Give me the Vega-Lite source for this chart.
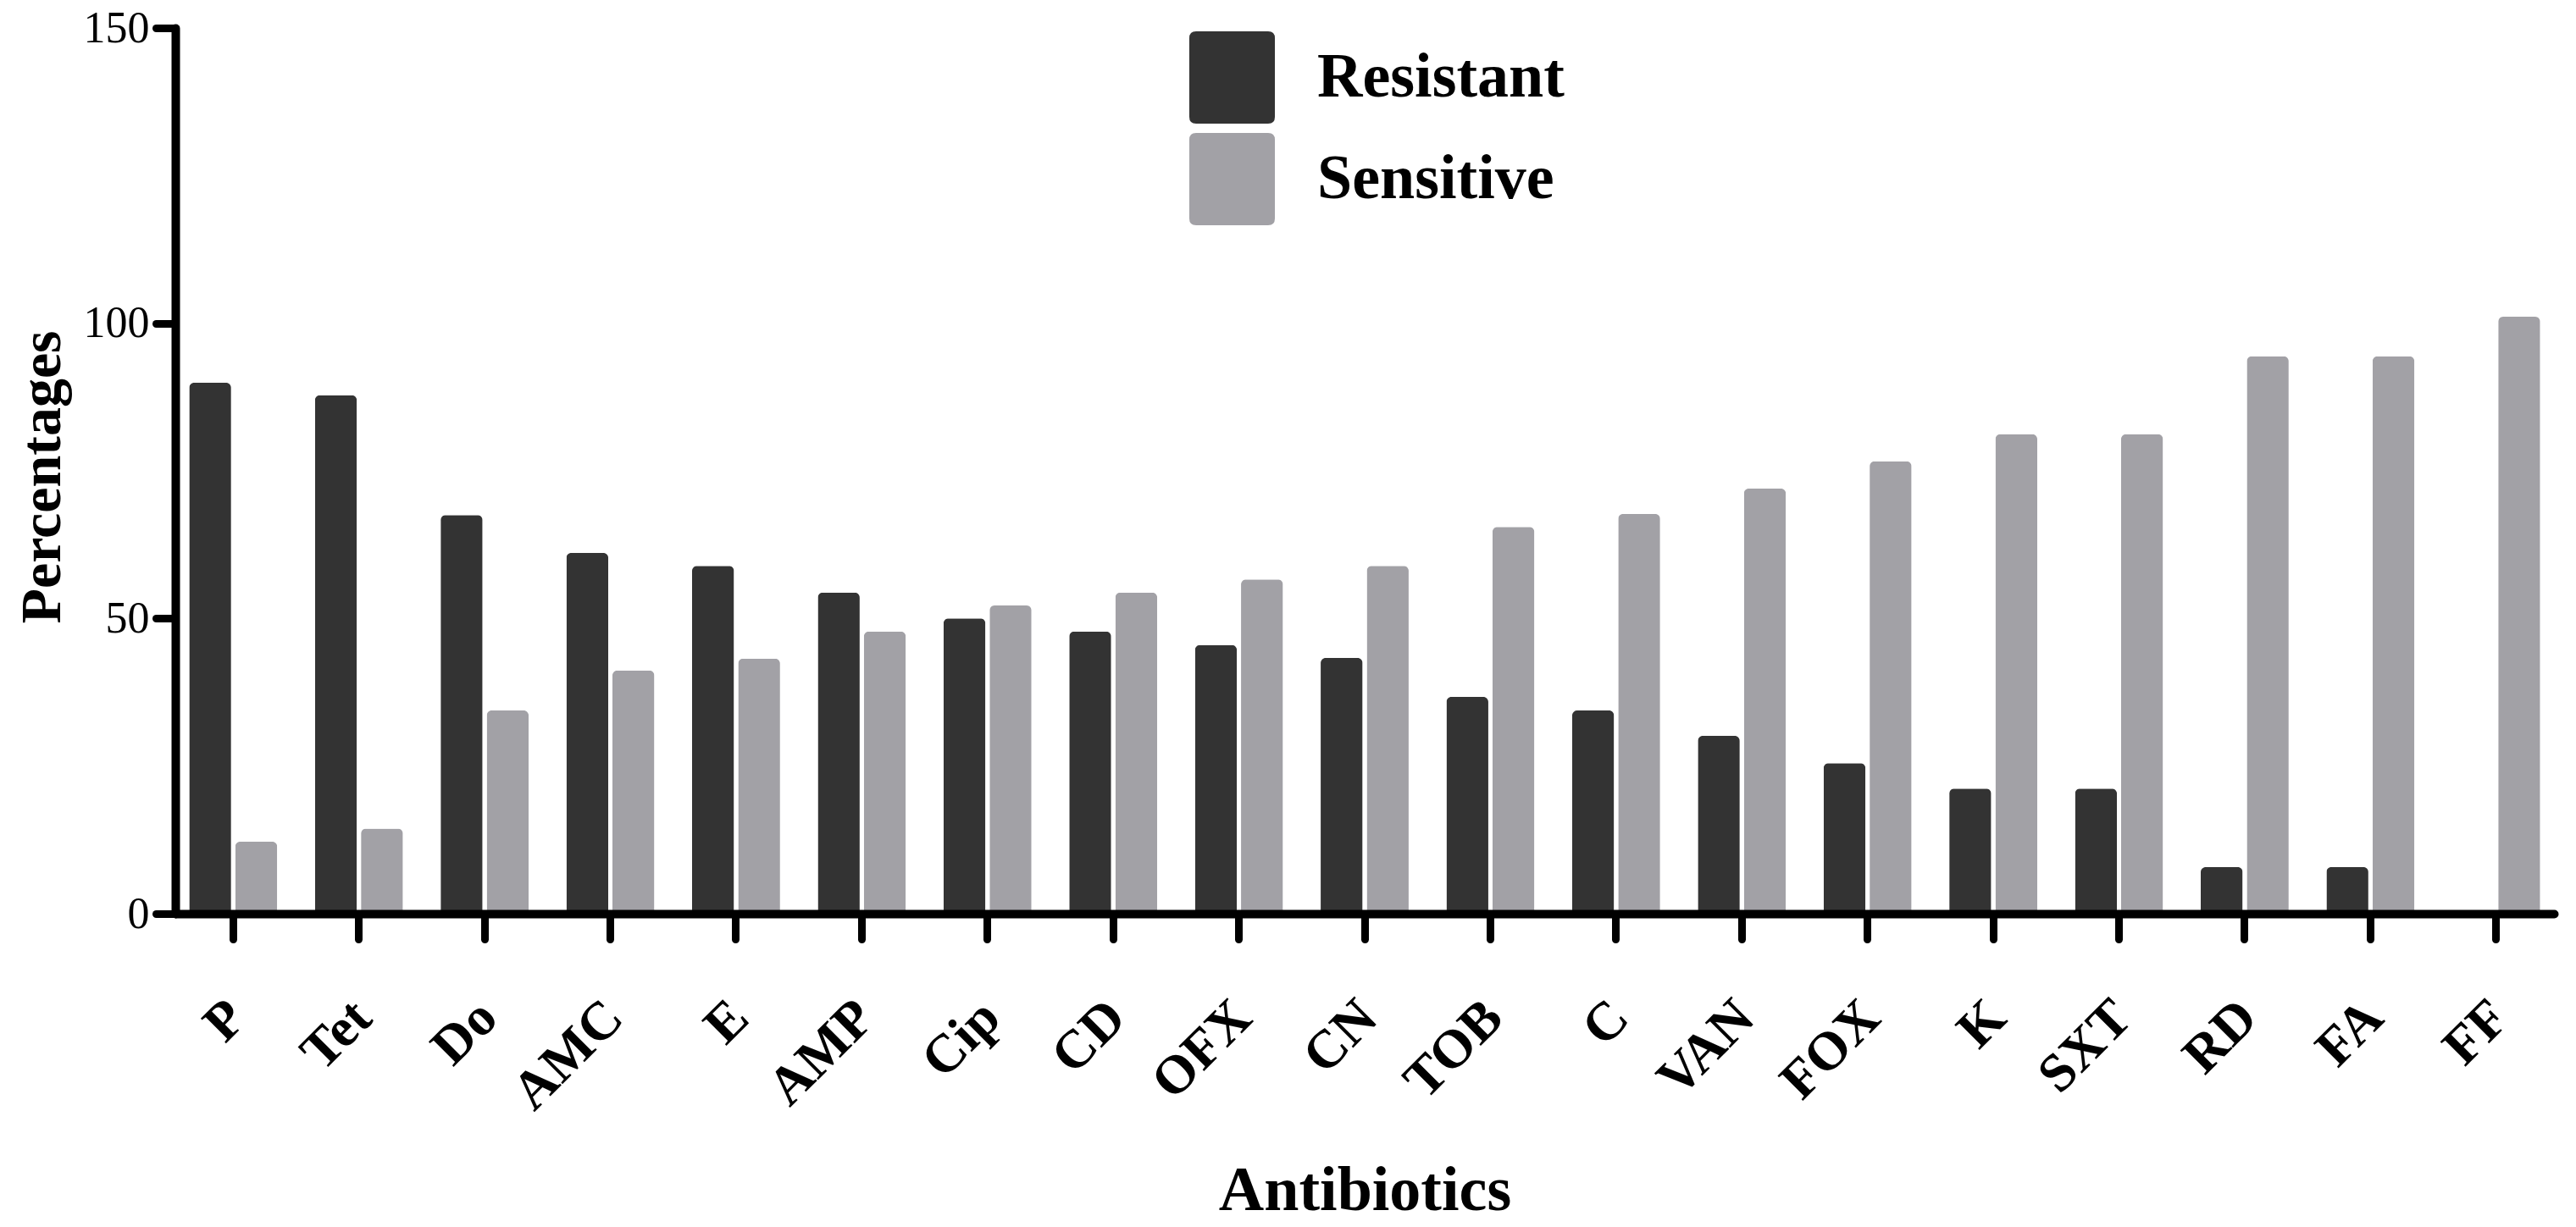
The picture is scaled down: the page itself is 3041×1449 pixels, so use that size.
{
  "$schema": "https://vega.github.io/schema/vega-lite/v6.json",
  "width": 2808,
  "height": 1046,
  "autosize": {"type": "none"},
  "padding": {"left": 207, "top": 33, "right": 26, "bottom": 370},
  "background": "white",
  "data": {
    "values": [
      {"antibiotic": "P", "status": "Resistant", "percentage": 89.9},
      {"antibiotic": "P", "status": "Sensitive", "percentage": 12.2},
      {"antibiotic": "Tet", "status": "Resistant", "percentage": 87.8},
      {"antibiotic": "Tet", "status": "Sensitive", "percentage": 14.4},
      {"antibiotic": "Do", "status": "Resistant", "percentage": 67.5},
      {"antibiotic": "Do", "status": "Sensitive", "percentage": 34.4},
      {"antibiotic": "AMC", "status": "Resistant", "percentage": 61.1},
      {"antibiotic": "AMC", "status": "Sensitive", "percentage": 41.2},
      {"antibiotic": "E", "status": "Resistant", "percentage": 58.9},
      {"antibiotic": "E", "status": "Sensitive", "percentage": 43.2},
      {"antibiotic": "AMP", "status": "Resistant", "percentage": 54.4},
      {"antibiotic": "AMP", "status": "Sensitive", "percentage": 47.8},
      {"antibiotic": "Cip", "status": "Resistant", "percentage": 50.0},
      {"antibiotic": "Cip", "status": "Sensitive", "percentage": 52.2},
      {"antibiotic": "CD", "status": "Resistant", "percentage": 47.8},
      {"antibiotic": "CD", "status": "Sensitive", "percentage": 54.4},
      {"antibiotic": "OFX", "status": "Resistant", "percentage": 45.5},
      {"antibiotic": "OFX", "status": "Sensitive", "percentage": 56.6},
      {"antibiotic": "CN", "status": "Resistant", "percentage": 43.3},
      {"antibiotic": "CN", "status": "Sensitive", "percentage": 58.9},
      {"antibiotic": "TOB", "status": "Resistant", "percentage": 36.7},
      {"antibiotic": "TOB", "status": "Sensitive", "percentage": 65.5},
      {"antibiotic": "C", "status": "Resistant", "percentage": 34.4},
      {"antibiotic": "C", "status": "Sensitive", "percentage": 67.7},
      {"antibiotic": "VAN", "status": "Resistant", "percentage": 30.1},
      {"antibiotic": "VAN", "status": "Sensitive", "percentage": 72.0},
      {"antibiotic": "FOX", "status": "Resistant", "percentage": 25.5},
      {"antibiotic": "FOX", "status": "Sensitive", "percentage": 76.6},
      {"antibiotic": "K", "status": "Resistant", "percentage": 21.2},
      {"antibiotic": "K", "status": "Sensitive", "percentage": 81.2},
      {"antibiotic": "SXT", "status": "Resistant", "percentage": 21.2},
      {"antibiotic": "SXT", "status": "Sensitive", "percentage": 81.2},
      {"antibiotic": "RD", "status": "Resistant", "percentage": 7.9},
      {"antibiotic": "RD", "status": "Sensitive", "percentage": 94.4},
      {"antibiotic": "FA", "status": "Resistant", "percentage": 7.9},
      {"antibiotic": "FA", "status": "Sensitive", "percentage": 94.4},
      {"antibiotic": "FF", "status": "Resistant", "percentage": 0},
      {"antibiotic": "FF", "status": "Sensitive", "percentage": 101.1}
    ]
  },
  "mark": {"type": "bar", "cornerRadiusTopLeft": 6, "cornerRadiusTopRight": 6},
  "encoding": {
    "x": {
      "field": "antibiotic",
      "type": "nominal",
      "sort": ["P", "Tet", "Do", "AMC", "E", "AMP", "Cip", "CD", "OFX", "CN", "TOB", "C", "VAN", "FOX", "K", "SXT", "RD", "FA", "FF"],
      "scale": {"paddingInner": 0.3, "paddingOuter": 0.11},
      "axis": {
        "title": "Antibiotics",
        "grid": false,
        "zindex": 1,
        "labelAngle": -45,
        "labelFont": "Liberation Serif",
        "labelFontWeight": "bold",
        "labelFontSize": 64,
        "labelColor": "black",
        "labelPadding": 60,
        "labelOffset": -18,
        "tickSize": 30,
        "tickWidth": 9,
        "tickColor": "black",
        "tickCap": "round",
        "domainWidth": 10,
        "domainColor": "black",
        "domainCap": "round",
        "titleFont": "Liberation Serif",
        "titleFontSize": 74,
        "titleFontWeight": "bold",
        "titleColor": "black",
        "titleX": 1404,
        "titleY": 349,
        "titleBaseline": "alphabetic",
        "titleAlign": "center"
      }
    },
    "xOffset": {
      "field": "status",
      "type": "nominal",
      "sort": ["Resistant", "Sensitive"],
      "scale": {"paddingInner": 0.09, "paddingOuter": 0}
    },
    "y": {
      "field": "percentage",
      "type": "quantitative",
      "scale": {"domain": [0, 150], "nice": false},
      "axis": {
        "title": "Percentages",
        "values": [0, 50, 100, 150],
        "grid": false,
        "zindex": 1,
        "labelFont": "Liberation Serif",
        "labelFontSize": 52,
        "labelColor": "black",
        "labelPadding": 8,
        "tickSize": 23,
        "tickWidth": 9,
        "tickColor": "black",
        "tickCap": "round",
        "domainWidth": 10,
        "domainColor": "black",
        "domainCap": "round",
        "titleFont": "Liberation Serif",
        "titleFontSize": 68,
        "titleFontWeight": "bold",
        "titleColor": "black",
        "titleAngle": -90,
        "titleX": -137,
        "titleY": 530,
        "titleBaseline": "alphabetic",
        "titleAlign": "center"
      }
    },
    "color": {
      "field": "status",
      "type": "nominal",
      "scale": {"domain": ["Resistant", "Sensitive"], "range": ["#333333", "#A2A1A6"]},
      "legend": {
        "orient": "none",
        "legendX": 1193,
        "legendY": 4,
        "title": null,
        "padding": 0,
        "symbolType": "M -0.78 -1 L 0.78 -1 Q 0.927 -1 0.927 -0.853 L 0.927 0.853 Q 0.927 1 0.78 1 L -0.78 1 Q -0.927 1 -0.927 0.853 L -0.927 -0.853 Q -0.927 -1 -0.78 -1 Z",
        "symbolSize": 11881,
        "symbolStrokeWidth": 0,
        "symbolOpacity": 1,
        "labelFont": "Liberation Serif",
        "labelFontWeight": "bold",
        "labelFontSize": 74,
        "labelColor": "black",
        "labelOffset": 46,
        "rowPadding": 11,
        "labelLimit": 0
      }
    }
  },
  "config": {"view": {"stroke": null}}
}
